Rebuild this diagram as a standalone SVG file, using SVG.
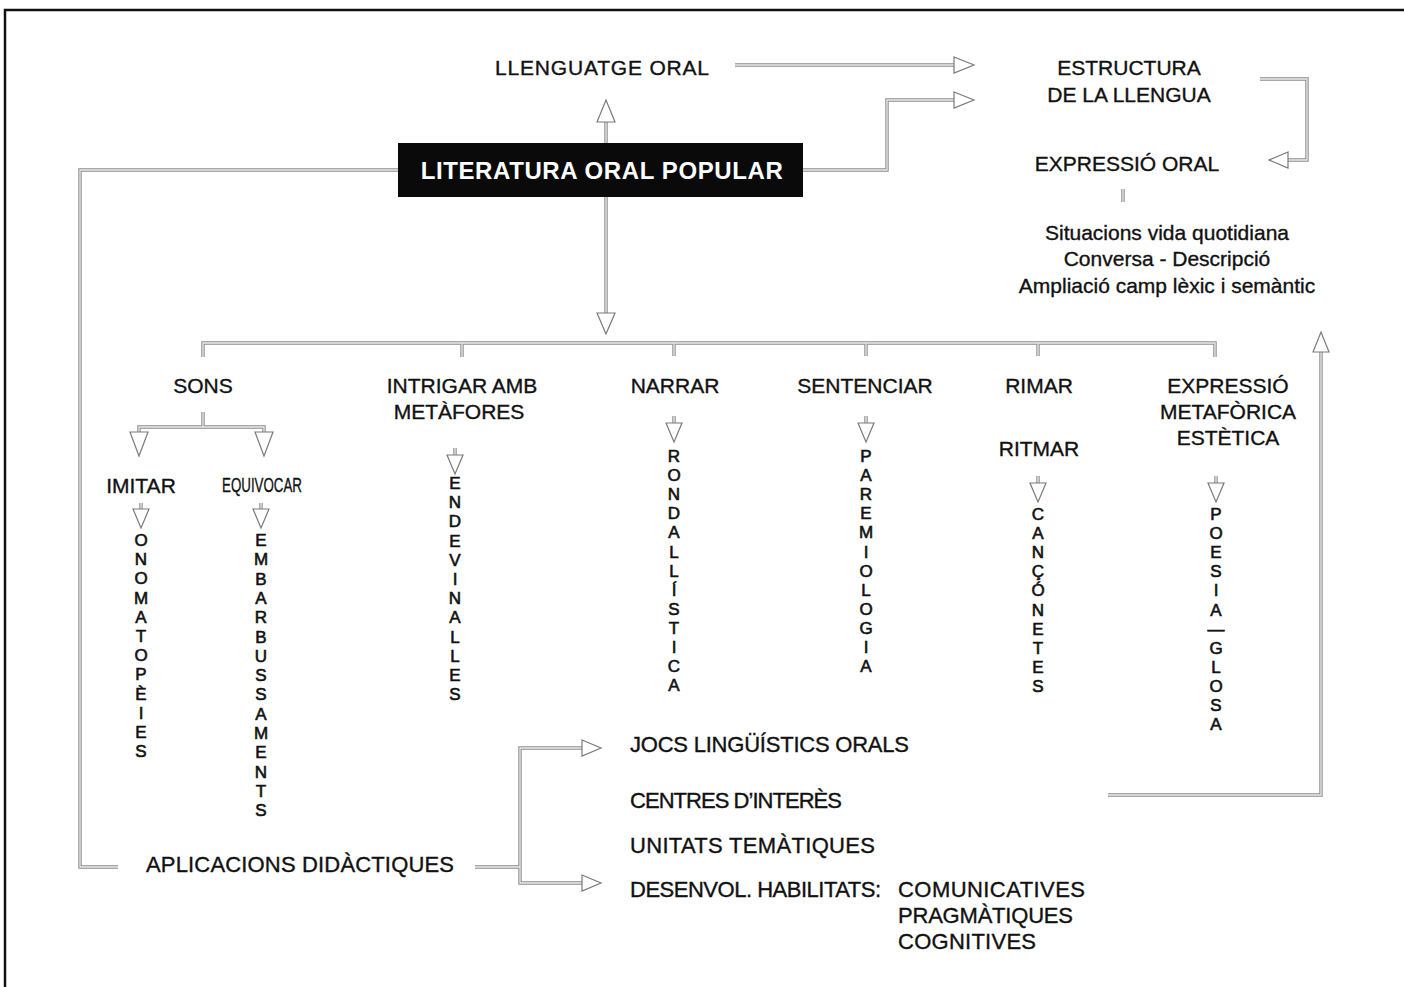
<svg xmlns="http://www.w3.org/2000/svg" xmlns:xlink="http://www.w3.org/1999/xlink" width="1404" height="987" viewBox="0 0 1404 987">
<style>
  .t { font-family: "Liberation Sans", Arial, sans-serif; font-size: 21px; fill: #111; stroke: #111; stroke-width: 0.35px; }
  .b { font-size: 22px; }
  .m { text-anchor: middle; }
  .col { font-family: "Liberation Sans", Arial, sans-serif; font-size: 17px; fill: #111; stroke: #111; stroke-width: 0.6px; text-anchor: middle; }
  .title { font-family: "Liberation Sans", Arial, sans-serif; font-size: 24px; font-weight: bold; fill: #fff; text-anchor: middle; letter-spacing: 0.6px; }
  .outer { fill: none; stroke: #8c8c8c; stroke-width: 3.4; }
  .inner { fill: none; stroke: #ececec; stroke-width: 1.3; }
  .head { fill: #fff; stroke: #7a7a7a; stroke-width: 1.2; stroke-linejoin: miter; }
  .frame { fill: none; stroke: #111; stroke-width: 2.5; }
</style>
<defs>
  <path id="p1" d="M735,65 H954"/>
  <path id="p2" d="M803,170 H887 V100 H954"/>
  <path id="p3" d="M606,143 V121"/>
  <path id="p4" d="M606,197 V314"/>
  <path id="p5" d="M1260,79 H1307 V160 H1288"/>
  <path id="p6" d="M1123,189 V202"/>
  <path id="p7" d="M203,357 V343 H1215 V357 M462,343 V357 M674,343 V356 M866,343 V356 M1038,343 V356"/>
  <path id="p8" d="M203,412 V427 M139,433 V427 H264 V433"/>
  <path id="p9" d="M398,170 H80 V867 H118"/>
  <path id="p10" d="M475,867 H520 M582,748 H520 V883 H582"/>
  <path id="p11" d="M1108,795 H1321 V351"/>
  <path id="s1" d="M141,503 V509 M261,503 V509 M455,448 V455 M674,416 V423 M866,416 V423 M1038,476 V483 M1216,476 V483"/>
</defs>

<path class="frame" d="M5,987 V10 H1404"/>

<g id="connectors">
  <use xlink:href="#p1" class="outer"/><use xlink:href="#p1" class="inner"/>
  <use xlink:href="#p2" class="outer"/><use xlink:href="#p2" class="inner"/>
  <use xlink:href="#p3" class="outer"/><use xlink:href="#p3" class="inner"/>
  <use xlink:href="#p4" class="outer"/><use xlink:href="#p4" class="inner"/>
  <use xlink:href="#p5" class="outer"/><use xlink:href="#p5" class="inner"/>
  <use xlink:href="#p6" class="outer"/><use xlink:href="#p6" class="inner"/>
  <use xlink:href="#p7" class="outer"/><use xlink:href="#p7" class="inner"/>
  <use xlink:href="#p8" class="outer"/><use xlink:href="#p8" class="inner"/>
  <use xlink:href="#p9" class="outer"/><use xlink:href="#p9" class="inner"/>
  <use xlink:href="#p10" class="outer"/><use xlink:href="#p10" class="inner"/>
  <use xlink:href="#p11" class="outer"/><use xlink:href="#p11" class="inner"/>
  <use xlink:href="#s1" class="outer"/><use xlink:href="#s1" class="inner"/>
  <polygon class="head" points="954,57 974,65 954,73"/>
  <polygon class="head" points="954,92 974,100 954,108"/>
  <polygon class="head" points="597,122 606,100 615,122"/>
  <polygon class="head" points="597,313 606,334 615,313"/>
  <polygon class="head" points="1288,152 1269,160 1288,168"/>
  <polygon class="head" points="130,432 139,456 148,432"/>
  <polygon class="head" points="255,432 264,456 273,432"/>
  <polygon class="head" points="133,509 141,528 149,509"/>
  <polygon class="head" points="253,509 261,528 269,509"/>
  <polygon class="head" points="447,455 455,474 463,455"/>
  <polygon class="head" points="666,423 674,442 682,423"/>
  <polygon class="head" points="858,423 866,442 874,423"/>
  <polygon class="head" points="1030,483 1038,502 1046,483"/>
  <polygon class="head" points="1208,483 1216,502 1224,483"/>
  <polygon class="head" points="582,740 601,748 582,756"/>
  <polygon class="head" points="582,875 601,883 582,891"/>
  <polygon class="head" points="1313,352 1321,332 1329,352"/>
</g>

<g id="n-literatura">
  <rect x="398" y="143" width="405" height="54" fill="#0a0a0a"/>
  <text class="title" x="602" y="179">LITERATURA ORAL POPULAR</text>
</g>
<g id="n-llenguatge"><text class="t m" x="602" y="75" font-size="22" textLength="214">LLENGUATGE ORAL</text></g>
<g id="n-estructura">
  <text class="t m" x="1129" y="75">ESTRUCTURA</text>
  <text class="t m" x="1129" y="102">DE LA LLENGUA</text>
</g>
<g id="n-expressio-oral"><text class="t m" x="1127" y="171">EXPRESSIÓ ORAL</text></g>
<g id="n-situacions">
  <text class="t m" x="1167" y="240" font-size="20">Situacions vida quotidiana</text>
  <text class="t m" x="1167" y="266" font-size="20">Conversa - Descripció</text>
  <text class="t m" x="1167" y="293" font-size="20">Ampliació camp lèxic i semàntic</text>
</g>

<g id="n-sons"><text class="t m" x="203" y="393">SONS</text></g>
<g id="n-intrigar">
  <text class="t m" x="462" y="393">INTRIGAR AMB</text>
  <text class="t m" x="459" y="419">METÀFORES</text>
</g>
<g id="n-narrar"><text class="t m" x="675" y="393">NARRAR</text></g>
<g id="n-sentenciar"><text class="t m" x="865" y="393">SENTENCIAR</text></g>
<g id="n-rimar">
  <text class="t m" x="1039" y="393">RIMAR</text>
  <text class="t m" x="1039" y="456">RITMAR</text>
</g>
<g id="n-expressio-met">
  <text class="t m" x="1228" y="393">EXPRESSIÓ</text>
  <text class="t m" x="1228" y="419">METAFÒRICA</text>
  <text class="t m" x="1228" y="445">ESTÈTICA</text>
</g>
<g id="n-imitar"><text class="t m" x="141" y="493">IMITAR</text></g>
<g id="n-equivocar"><text class="t m" x="262" y="492" font-size="18" textLength="80" lengthAdjust="spacingAndGlyphs">EQUIVOCAR</text></g>

<g id="n-onomatopeies">
  <text class="col" x="141" y="546"><tspan x="141">O</tspan><tspan x="141" dy="19.2">N</tspan><tspan x="141" dy="19.2">O</tspan><tspan x="141" dy="19.2">M</tspan><tspan x="141" dy="19.2">A</tspan><tspan x="141" dy="19.2">T</tspan><tspan x="141" dy="19.2">O</tspan><tspan x="141" dy="19.2">P</tspan><tspan x="141" dy="19.2">È</tspan><tspan x="141" dy="19.2">I</tspan><tspan x="141" dy="19.2">E</tspan><tspan x="141" dy="19.2">S</tspan></text>
</g>
<g id="n-embarbussaments">
  <text class="col" x="261" y="546"><tspan x="261">E</tspan><tspan x="261" dy="19.3">M</tspan><tspan x="261" dy="19.3">B</tspan><tspan x="261" dy="19.3">A</tspan><tspan x="261" dy="19.3">R</tspan><tspan x="261" dy="19.3">B</tspan><tspan x="261" dy="19.3">U</tspan><tspan x="261" dy="19.3">S</tspan><tspan x="261" dy="19.3">S</tspan><tspan x="261" dy="19.3">A</tspan><tspan x="261" dy="19.3">M</tspan><tspan x="261" dy="19.3">E</tspan><tspan x="261" dy="19.3">N</tspan><tspan x="261" dy="19.3">T</tspan><tspan x="261" dy="19.3">S</tspan></text>
</g>
<g id="n-endevinalles">
  <text class="col" x="455" y="489"><tspan x="455">E</tspan><tspan x="455" dy="19.2">N</tspan><tspan x="455" dy="19.2">D</tspan><tspan x="455" dy="19.2">E</tspan><tspan x="455" dy="19.2">V</tspan><tspan x="455" dy="19.2">I</tspan><tspan x="455" dy="19.2">N</tspan><tspan x="455" dy="19.2">A</tspan><tspan x="455" dy="19.2">L</tspan><tspan x="455" dy="19.2">L</tspan><tspan x="455" dy="19.2">E</tspan><tspan x="455" dy="19.2">S</tspan></text>
</g>
<g id="n-rondallistica">
  <text class="col" x="674" y="462"><tspan x="674">R</tspan><tspan x="674" dy="19.1">O</tspan><tspan x="674" dy="19.1">N</tspan><tspan x="674" dy="19.1">D</tspan><tspan x="674" dy="19.1">A</tspan><tspan x="674" dy="19.1">L</tspan><tspan x="674" dy="19.1">L</tspan><tspan x="674" dy="19.1">Í</tspan><tspan x="674" dy="19.1">S</tspan><tspan x="674" dy="19.1">T</tspan><tspan x="674" dy="19.1">I</tspan><tspan x="674" dy="19.1">C</tspan><tspan x="674" dy="19.1">A</tspan></text>
</g>
<g id="n-paremiologia">
  <text class="col" x="866" y="462"><tspan x="866">P</tspan><tspan x="866" dy="19.1">A</tspan><tspan x="866" dy="19.1">R</tspan><tspan x="866" dy="19.1">E</tspan><tspan x="866" dy="19.1">M</tspan><tspan x="866" dy="19.1">I</tspan><tspan x="866" dy="19.1">O</tspan><tspan x="866" dy="19.1">L</tspan><tspan x="866" dy="19.1">O</tspan><tspan x="866" dy="19.1">G</tspan><tspan x="866" dy="19.1">I</tspan><tspan x="866" dy="19.1">A</tspan></text>
</g>
<g id="n-cançonetes">
  <text class="col" x="1038" y="520"><tspan x="1038">C</tspan><tspan x="1038" dy="19.1">A</tspan><tspan x="1038" dy="19.1">N</tspan><tspan x="1038" dy="19.1">Ç</tspan><tspan x="1038" dy="19.1">Ó</tspan><tspan x="1038" dy="19.1">N</tspan><tspan x="1038" dy="19.1">E</tspan><tspan x="1038" dy="19.1">T</tspan><tspan x="1038" dy="19.1">E</tspan><tspan x="1038" dy="19.1">S</tspan></text>
</g>
<g id="n-poesia-glosa">
  <text class="col" x="1216" y="520"><tspan x="1216">P</tspan><tspan x="1216" dy="19.1">O</tspan><tspan x="1216" dy="19.1">E</tspan><tspan x="1216" dy="19.1">S</tspan><tspan x="1216" dy="19.1">I</tspan><tspan x="1216" dy="19.1">A</tspan><tspan x="1216" dy="19.1">—</tspan><tspan x="1216" dy="19.1">G</tspan><tspan x="1216" dy="19.1">L</tspan><tspan x="1216" dy="19.1">O</tspan><tspan x="1216" dy="19.1">S</tspan><tspan x="1216" dy="19.1">A</tspan></text>
</g>

<g id="n-aplicacions"><text class="t b" x="146" y="872" textLength="308">APLICACIONS DIDÀCTIQUES</text></g>
<g id="n-jocs"><text class="t b" x="630" y="752" textLength="279">JOCS LINGÜÍSTICS ORALS</text></g>
<g id="n-centres"><text class="t b" x="630" y="808" textLength="212">CENTRES D’INTERÈS</text></g>
<g id="n-unitats"><text class="t b" x="630" y="853" textLength="245">UNITATS TEMÀTIQUES</text></g>
<g id="n-desenvol">
  <text class="t b" x="630" y="897" textLength="251">DESENVOL. HABILITATS:</text>
  <text class="t b" x="898" y="897" textLength="187">COMUNICATIVES</text>
  <text class="t b" x="898" y="923" textLength="175">PRAGMÀTIQUES</text>
  <text class="t b" x="898" y="949" textLength="138">COGNITIVES</text>
</g>
</svg>
